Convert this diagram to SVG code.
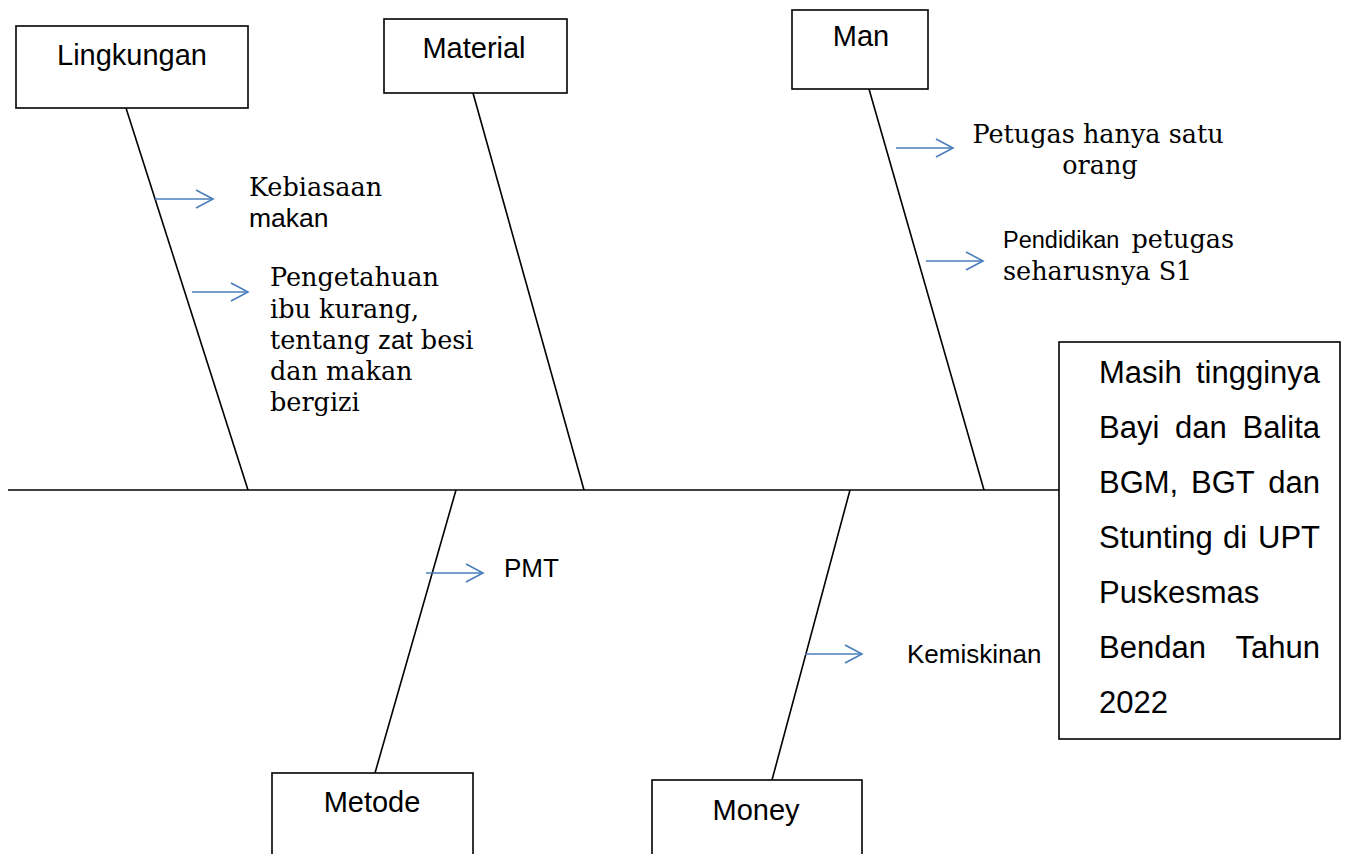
<svg xmlns="http://www.w3.org/2000/svg" width="1348" height="854" viewBox="0 0 1348 854">
<defs>
<marker id="chev" markerUnits="userSpaceOnUse" markerWidth="24" markerHeight="24" viewBox="-20 -12 24 24" refX="0" refY="0" orient="auto">
<path d="M-17,-9 L0,0 L-17,9" fill="none" stroke="#4a7ebb" stroke-width="1.6"/>
</marker>
</defs>
<style>
.box{fill:#fff;stroke:#000;stroke-width:1.6}
.bone{stroke:#000;stroke-width:1.6;fill:none}
.arr{stroke:#4a7ebb;stroke-width:1.6;fill:none;marker-end:url(#chev)}
.sans{font-family:"Liberation Sans",Arial,sans-serif;fill:#000}
.serif{font-family:"DejaVu Serif","Liberation Serif",serif;fill:#000;font-size:25.5px}
.lbl{font-size:29px;text-anchor:middle}
.eff{font-size:31px}
.end{text-anchor:end}
</style>
<rect width="1348" height="854" fill="#fff"/>
<g id="connectors">
<line class="bone" x1="8" y1="490" x2="1059" y2="490"/>
<line class="bone" x1="126" y1="108" x2="248" y2="490"/>
<line class="bone" x1="473" y1="93" x2="584" y2="490"/>
<line class="bone" x1="869" y1="89" x2="984" y2="490"/>
<line class="bone" x1="456" y1="490" x2="375" y2="773"/>
<line class="bone" x1="850" y1="490" x2="772" y2="780"/>
<line class="arr" x1="155" y1="199" x2="213" y2="199"/>
<line class="arr" x1="192" y1="292" x2="248" y2="292"/>
<line class="arr" x1="896" y1="148" x2="953" y2="148"/>
<line class="arr" x1="926" y1="261" x2="983" y2="261"/>
<line class="arr" x1="426" y1="573" x2="483" y2="573"/>
<line class="arr" x1="805" y1="654" x2="862" y2="654"/>
</g>
<g id="lingkungan">
<rect class="box" x="16" y="26" width="232" height="82"/>
<text class="sans lbl" x="132" y="65">Lingkungan</text>
</g>
<g id="material">
<rect class="box" x="384" y="19" width="183" height="74"/>
<text class="sans lbl" x="474" y="58">Material</text>
</g>
<g id="man">
<rect class="box" x="792" y="10" width="136" height="79"/>
<text class="sans lbl" x="861" y="46" font-size="26">Man</text>
</g>
<g id="metode">
<rect class="box" x="272" y="773" width="201" height="90"/>
<text class="sans lbl" x="372" y="812">Metode</text>
</g>
<g id="money">
<rect class="box" x="652" y="780" width="210" height="90"/>
<text class="sans lbl" x="756" y="820">Money</text>
</g>
<g id="effect">
<rect class="box" x="1059" y="342" width="281" height="397"/>
<text class="sans eff" x="1099" y="383">Masih</text>
<text class="sans eff end" x="1320" y="383">tingginya</text>
<text class="sans eff" x="1099" y="438">Bayi</text>
<text class="sans eff" x="1175" y="438">dan</text>
<text class="sans eff end" x="1320" y="438">Balita</text>
<text class="sans eff" x="1099" y="493">BGM,</text>
<text class="sans eff" x="1191" y="493">BGT</text>
<text class="sans eff end" x="1320" y="493">dan</text>
<text class="sans eff" x="1099" y="548">Stunting</text>
<text class="sans eff" x="1223" y="548">di</text>
<text class="sans eff end" x="1320" y="548">UPT</text>
<text class="sans eff" x="1099" y="603">Puskesmas</text>
<text class="sans eff" x="1099" y="658">Bendan</text>
<text class="sans eff end" x="1320" y="658">Tahun</text>
<text class="sans eff" x="1099" y="713">2022</text>
</g>
<g id="cause-kebiasaan">
<text class="serif" x="249" y="196">Kebiasaan</text>
<text class="sans" x="249" y="227" font-size="26.5">makan</text>
</g>
<g id="cause-pengetahuan">
<text class="serif" x="270" y="286">Pengetahuan</text>
<text class="serif" x="270" y="318">ibu kurang,</text>
<text class="serif" x="270" y="349">tentang <tspan class="sans" font-size="26">zat</tspan> besi</text>
<text class="serif" x="270" y="380">dan makan</text>
<text class="serif" x="270" y="411">bergizi</text>
</g>
<g id="cause-petugas">
<text class="serif" x="1098" y="143" text-anchor="middle">Petugas hanya satu</text>
<text class="serif" x="1100" y="174" text-anchor="middle">orang</text>
</g>
<g id="cause-pendidikan">
<text class="serif" x="1003" y="248"><tspan class="sans" font-size="23.5">Pendidikan</tspan><tspan dx="4"> petugas</tspan></text>
<text class="serif" x="1003" y="280">seharusnya S1</text>
</g>
<g id="cause-pmt">
<text class="sans" x="504" y="577" font-size="26">PMT</text>
</g>
<g id="cause-kemiskinan">
<text class="sans" x="907" y="663" font-size="26">Kemiskinan</text>
</g>
</svg>
